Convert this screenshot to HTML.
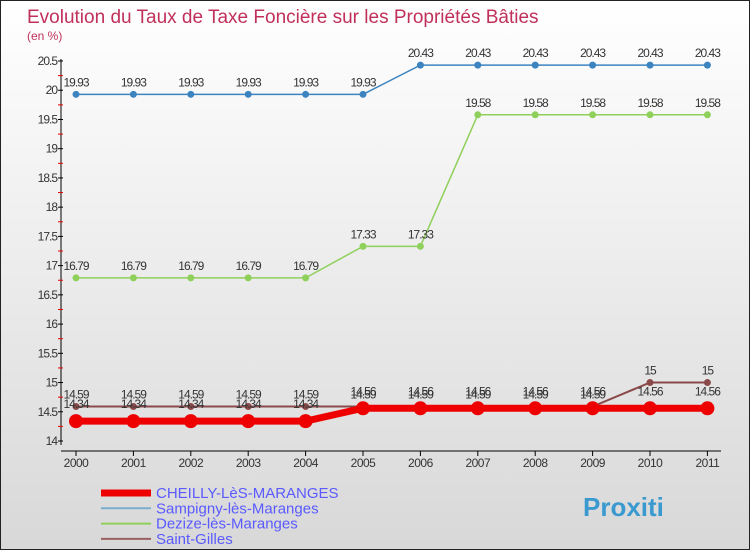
<!DOCTYPE html>
<html><head><meta charset="utf-8"><style>
body{margin:0}
#c{width:748px;height:548px;border:1px solid #222;background:linear-gradient(#fff,#d8d8d8);position:relative;font-family:"Liberation Sans",sans-serif;overflow:hidden}
</style></head><body>
<div id="c">
<svg id="s" width="748" height="548"></svg>
</div>
<script>
const years=['2000','2001','2002','2003','2004','2005','2006','2007','2008','2009','2010','2011'];
const cheilly=[14.34,14.34,14.34,14.34,14.34,14.56,14.56,14.56,14.56,14.56,14.56,14.56];
const sampigny=[19.93,19.93,19.93,19.93,19.93,19.93,20.43,20.43,20.43,20.43,20.43,20.43];
const dezize=[16.79,16.79,16.79,16.79,16.79,17.33,17.33,19.58,19.58,19.58,19.58,19.58];
const gilles=[14.59,14.59,14.59,14.59,14.59,14.59,14.59,14.59,14.59,14.59,15,15];
const yTicks=[14,14.5,15,15.5,16,16.5,17,17.5,18,18.5,19,19.5,20,20.5];
const NS='http://www.w3.org/2000/svg',s=document.getElementById('s');
function X(i){return 75+i*57.4;}
function Y(v){return 440-(v-14)*58.46;}
function el(t,a,txt,name){const e=document.createElementNS(NS,t);for(const k in a)e.setAttribute(k,a[k]);if(txt!==undefined)e.textContent=txt;


s.appendChild(e);return e;}
el('text',{x:26,y:22,'font-size':19,fill:'#c0305a'},'Evolution du Taux de Taxe Foncière sur les Propriétés Bâties','chart-title');
el('text',{x:26,y:39,'font-size':12,fill:'#c0305a'},'(en %)','y-unit');
el('line',{x1:60,y1:58,x2:60,y2:444,stroke:'#000'},undefined,'y-axis');
el('line',{x1:60,y1:450,x2:720,y2:450,stroke:'#000'},undefined,'x-axis');
yTicks.forEach(v=>{const y=Y(v);el('line',{x1:57,y1:y,x2:62,y2:y,stroke:'#000'},undefined,'y-tick');
if(v<20.5)el('line',{x1:57,y1:y-14.6,x2:62,y2:y-14.6,stroke:'#e00'},undefined,'y-minor-tick');
el('text',{x:56,y:y+4,'font-size':12,fill:'#333','text-anchor':'end','letter-spacing':'-1'},String(v),'y-tick-label');});
years.forEach((yr,i)=>{el('line',{x1:X(i),y1:450,x2:X(i),y2:455,stroke:'#000'},undefined,'x-tick');
el('text',{x:X(i),y:466,'font-size':12,fill:'#333','text-anchor':'middle','letter-spacing':'-0.5'},yr,'x-tick-label');});
function series(d,col,w,r,name,dy){
el('polyline',{points:d.map((v,i)=>X(i)+','+Y(v)).join(' '),fill:'none',stroke:col,'stroke-width':w},undefined,name+'-line');
d.forEach((v,i)=>{el('circle',{cx:X(i),cy:Y(v),r:r,fill:col},undefined,name+'-point');
el('text',{x:X(i),y:Y(v)+dy,'font-size':12,fill:'#333','text-anchor':'middle','letter-spacing':'-1'},String(v),name+'-value');});}
series(sampigny,'#3c84c0',1.5,3.5,'sampigny',-8);
series(dezize,'#8fd05a',1.5,3.5,'dezize',-8);
series(gilles,'#8a4a4a',2,3.5,'saint-gilles',-8);
series(cheilly,'#ee0000',7,7,'cheilly',-13);
const leg=[['CHEILLY-LèS-MARANGES','#ee0000',7],['Sampigny-lès-Maranges','#7aaed0',2],['Dezize-lès-Maranges','#8fd05a',2],['Saint-Gilles','#9a6060',2]];
leg.forEach((l,i)=>{const y=492+i*15.3;el('line',{x1:100,y1:y,x2:150,y2:y,stroke:l[1],'stroke-width':l[2]},undefined,'legend-swatch');
el('text',{x:155,y:y+5,'font-size':15,fill:'#5a5aff'},l[0],'legend-entry');});
el('text',{x:582,y:515,'font-size':26,'font-weight':'bold',fill:'#3a9ad0'},'Proxiti','logo');
</script>
</body></html>
